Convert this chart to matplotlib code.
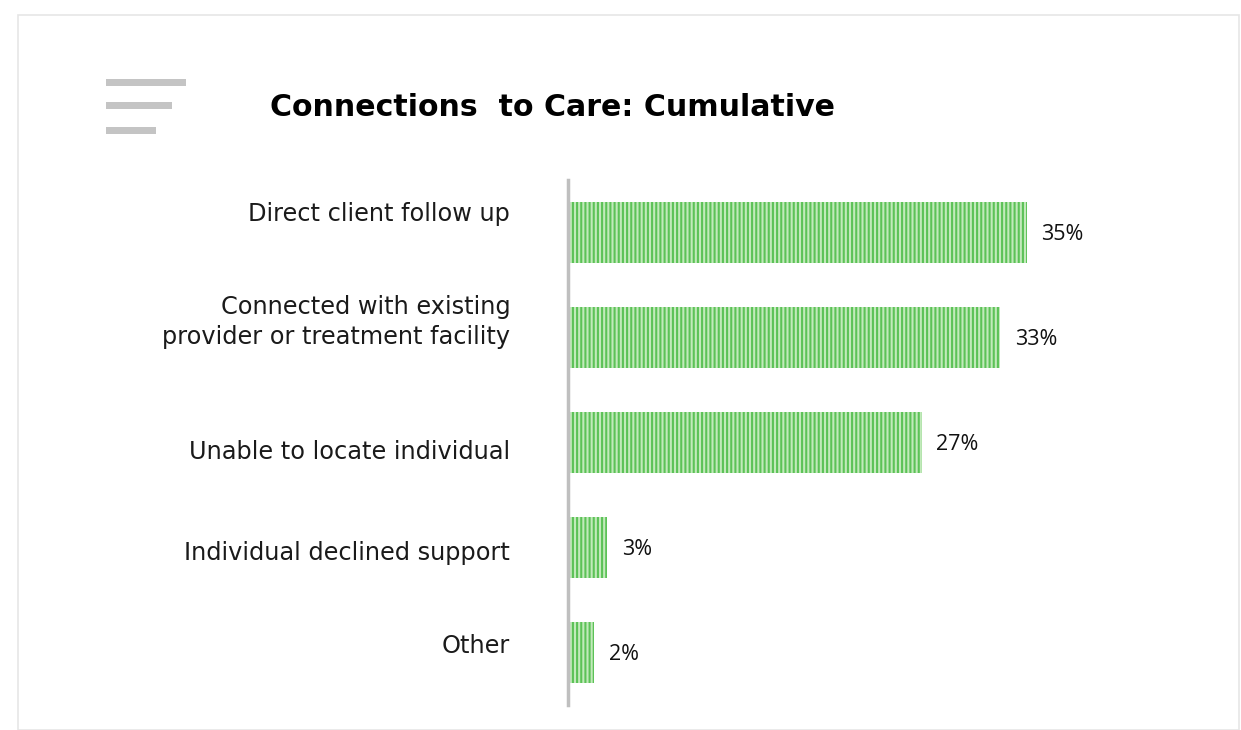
import numpy as np
import matplotlib.pyplot as plt
from matplotlib.patches import Rectangle

# data
categories = ['Direct client follow up',
              'Connected with existing\nprovider or treatment facility',
              'Unable to locate individual',
              'Individual declined support',
              'Other']
values = [35, 33, 27, 3, 2]
value_labels = ['35%', '33%', '27%', '3%', '2%']

# label nudges (data units), to mimic the slide layout
label_shift = [-0.18, -0.15, 0.09, 0.05, -0.06]

plt.rcParams['hatch.linewidth'] = 1.5

W, H = 1241, 730
fig = plt.figure(figsize=(W/100, H/100), dpi=100)

# card border
fig.patches.append(Rectangle((18/W, 0), (W-20)/W, (H-15)/H, transform=fig.transFigure,
                             facecolor='none', edgecolor='#e6e6e6', lw=1.2, zorder=-1))

# menu icon
for y0, w in [(79, 80), (102, 66), (127, 50)]:
    fig.patches.append(Rectangle((106/W, 1-(y0+7)/H), w/W, 7/H, transform=fig.transFigure,
                                 facecolor='#c4c4c4', edgecolor='none'))

fig.text(270/W, 1-108/H, 'Connections  to Care: Cumulative', fontsize=21.6, fontweight='bold',
         family='DejaVu Sans', va='center', ha='left', color='black')

ax = fig.add_axes([568/W, 25/H, (1100-568)/W, (705-180)/H])
ax.patch.set_alpha(0)
y = np.arange(len(categories))
ax.barh(y, values, height=0.58, left=0, color='#c2eabb', edgecolor='#5cc257',
        hatch='||||', linewidth=0, zorder=2)
ax.set_ylim(4.5, -0.5)
ax.set_xlim(0, 40.6)
for s in ['top', 'right', 'bottom']:
    ax.spines[s].set_visible(False)
ax.spines['left'].set_color('#bfbfbf')
ax.spines['left'].set_linewidth(2.5)
ax.set_xticks([])
ax.set_yticks([])

for i, (v, lab) in enumerate(zip(values, value_labels)):
    ax.text(v + 1.1, i + 0.02, lab, va='center', ha='left', fontsize=15.5,
            family='Open Sans', fontweight='medium', color='#111111')
    ax.text(-4.4, i + label_shift[i], categories[i], va='center', ha='right', fontsize=17.3,
            family='DejaVu Sans', color='#1a1a1a', linespacing=1.3)

fig.savefig('out.png', dpi=100, facecolor='white')
